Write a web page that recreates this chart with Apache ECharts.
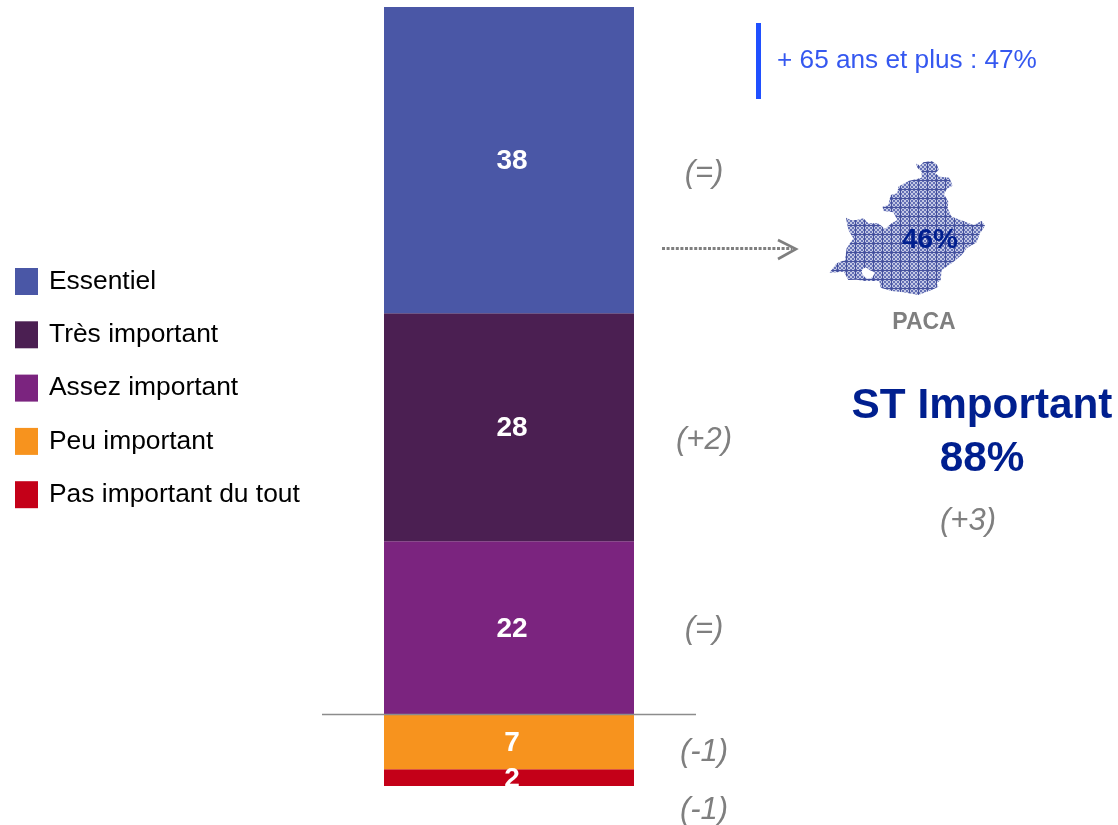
<!DOCTYPE html>
<html>
<head>
<meta charset="utf-8">
<style>html,body{margin:0;padding:0;background:#fff}#c{width:1118px;height:825px}</style>
<script src="https://cdn.jsdelivr.net/npm/echarts@6/dist/echarts.min.js"></script>
</head>
<body>
<div id="c"></div>
<script>
const categories = ['Essentiel', 'Très important', 'Assez important', 'Peu important', 'Pas important du tout'];
// Values; the printed labels are these rounded (38, 28, 22, 7, 2)
const values = [38.1, 28.4, 21.5, 6.85, 2.1];
const colors = ['#4a57a6', '#4b1f52', '#7b247f', '#f7931e', '#c40018'];
const deltas = ['(=)', '(+2)', '(=)', '(-1)', '(-1)'];
const deltaY = [171, 438, 627, 750, 808];
const mapOutline = [[288,25],[300,32],[310,22],[335,18],[352,30],[356,45],[345,55],[360,65],[388,68],[398,92],[380,102],[372,118],[385,140],[383,160],[395,185],[430,198],[460,210],[485,198],[495,212],[480,235],[470,262],[440,280],[425,300],[395,325],[365,345],[362,375],[350,385],[355,395],[335,405],[295,420],[250,412],[215,408],[182,398],[178,378],[135,378],[110,374],[85,375],[72,350],[28,353],[50,325],[75,315],[80,280],[100,250],[85,225],[78,188],[92,195],[110,195],[130,190],[145,205],[175,205],[195,222],[215,205],[232,195],[220,172],[190,168],[188,155],[205,150],[212,120],[232,115],[235,95],[265,78],[305,68],[305,50],[292,38]];
const mapHole = [[128,343],[138,338],[150,346],[162,352],[160,362],[148,371],[136,367],[126,354]];

const FONT = 'Liberation Sans';
const GRAY = '#7f7f7f';
const NAVY = '#001f8f';
const toPage = p => [p[0] / 3 + 820, p[1] / 3 + 155];

function hatch() {
  const s = 9, c = document.createElement('canvas');
  c.width = c.height = s;
  const g = c.getContext('2d');
  g.fillStyle = '#c3c8e4'; g.fillRect(0, 0, s, s);
  g.fillStyle = '#6571b6';
  for (let y = 0; y < s; y += 1) for (let x = 0; x < s; x += 1) if ((Math.floor(x / 2) + Math.floor(y / 2)) % 2 === 0) g.fillRect(x, y, 1, 1);
  g.fillStyle = '#434f9c';
  g.fillRect(0, 0, 1, s);
  g.fillRect(0, 0, s, 1);
  return c;
}

const txt = (x, y, text, size, fill, extra) => ({
  type: 'text', x, y: y + 2, z: 10,
  style: Object.assign({ text, fontFamily: FONT, fontSize: size, fill, align: 'center', verticalAlign: 'middle' }, extra || {})
});
const delta = (x, y, t) => txt(x, y, t, 31, GRAY, { fontStyle: 'italic' });

const series = categories.map((name, i) => ({ name, i })).reverse().map(({ name, i }) => ({
  name, type: 'bar', stack: 'total', barWidth: '100%',
  data: [values[i]],
  itemStyle: { color: colors[i] },
  label: {
    show: true, position: 'inside', offset: [3, 1.5], color: '#fff', fontFamily: FONT, fontWeight: 'bold', fontSize: 28,
    formatter: p => String(Math.round(p.value))
  }
}));

const total = values.reduce((a, b) => a + b, 0);
const chart = echarts.init(document.getElementById('c'), null, { renderer: 'canvas' });
chart.setOption({
  animation: false,
  backgroundColor: '#fff',
  textStyle: { fontFamily: FONT },
  grid: { left: 384, top: 7, width: 250, height: 779 },
  xAxis: { type: 'category', data: [''], show: false },
  yAxis: { type: 'value', min: 0, max: total, show: false },
  legend: {
    orient: 'vertical', left: 15, top: 268, padding: 0,
    data: categories, icon: 'rect', itemWidth: 23, itemHeight: 27, itemGap: 26.3,
    selectedMode: false,
    textStyle: { fontFamily: FONT, fontSize: 26.4, color: '#000', padding: [-5, 0, 0, 6] }
  },
  series,
  graphic: [
    { type: 'line', z: 10, shape: { x1: 322, y1: 714.5, x2: 696, y2: 714.5 }, style: { stroke: '#8c8c8c', lineWidth: 1.4 } },
    ...deltas.map((t, i) => delta(704, deltaY[i], t)),
    { type: 'rect', z: 10, shape: { x: 756, y: 23, width: 5, height: 76 }, style: { fill: '#2050ff' } },
    txt(777, 59, '+ 65 ans et plus : 47%', 26.2, '#3558f0', { align: 'left' }),
    { type: 'line', z: 10, shape: { x1: 662, y1: 248.5, x2: 792, y2: 248.5 }, style: { stroke: GRAY, lineWidth: 3, lineDash: [3, 1.6] } },
    { type: 'polyline', z: 10, shape: { points: [[778, 240], [796, 249], [778, 259]] }, style: { stroke: GRAY, lineWidth: 2.6, fill: null } },
    { type: 'polygon', z: 9, shape: { points: mapOutline.map(toPage) }, style: { fill: { image: hatch(), repeat: 'repeat' } } },
    { type: 'polygon', z: 9, shape: { points: mapHole.map(toPage), smooth: 0.4 }, style: { fill: '#fff' } },
    txt(930, 238, '46%', 28, NAVY, { fontWeight: 'bold' }),
    txt(924, 321, 'PACA', 23, GRAY, { fontWeight: 'bold' }),
    txt(982, 404, 'ST Important', 42.3, NAVY, { fontWeight: 'bold' }),
    txt(982, 457, '88%', 42.3, NAVY, { fontWeight: 'bold' }),
    delta(968, 519, '(+3)')
  ]
});
</script>
</body>
</html>
